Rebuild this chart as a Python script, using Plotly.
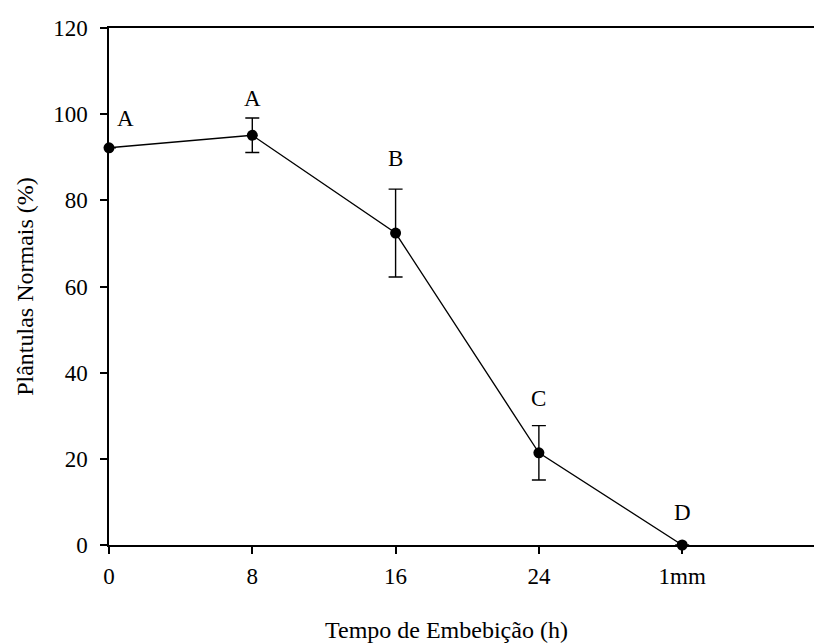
import plotly.graph_objects as go

tick_labels = ["0", "8", "16", "24", "1mm"]
x_pos = [0, 1, 2, 3, 4]
plantulas = [92.2, 95.1, 72.4, 21.4, 0.0]
erro = [0.0, 4.0, 10.2, 6.3, 0.0]
letras = ["A", "A", "B", "C", "D"]
letras_y = [99.0, 103.6, 89.7, 34.0, 7.6]
letras_xshift = [16, 0, 0, 0, 0]

FONT = "Liberation Serif"

fig = go.Figure()
fig.add_trace(go.Scatter(
    x=x_pos, y=plantulas,
    mode="lines+markers",
    line=dict(color="black", width=1.3),
    marker=dict(color="black", size=11),
    error_y=dict(type="data", array=erro, visible=True, color="black",
                 thickness=1.4, width=7),
    cliponaxis=False,
    showlegend=False,
))

for xi, t, yy, xs in zip(x_pos, letras, letras_y, letras_xshift):
    fig.add_annotation(x=xi, y=yy, text=t, showarrow=False, xshift=xs,
                       font=dict(family=FONT, size=23, color="black"))

# x-axis title (centred as in the original, slightly left of plot centre)
fig.add_annotation(xref="paper", yref="paper", x=0.479, y=-0.165,
                   xanchor="center", yanchor="middle", showarrow=False,
                   text="Tempo de Embebição (h)",
                   font=dict(family=FONT, size=24, color="black"))

fig.update_layout(
    width=814, height=643,
    margin=dict(l=109, r=0, t=28, b=98),
    paper_bgcolor="white", plot_bgcolor="white",
    font=dict(family=FONT, size=23, color="black"),
    xaxis=dict(
        range=[0, 4.92], tickvals=x_pos, ticktext=tick_labels,
        showline=True, linecolor="black", linewidth=1.5, mirror=True,
        ticks="outside", ticklen=7, tickwidth=1.5, tickcolor="black",
        ticklabelstandoff=3,
        showgrid=False, zeroline=False,
    ),
    yaxis=dict(
        range=[0, 120], tickvals=[0, 20, 40, 60, 80, 100, 120],
        showline=True, linecolor="black", linewidth=1.5,
        ticks="outside", ticklen=7, tickwidth=1.5, tickcolor="black",
        ticklabelstandoff=8,
        showgrid=False, zeroline=False,
        title=dict(text="Plântulas Normais (%)", standoff=13,
                   font=dict(family=FONT, size=24)),
    ),
)

fig.write_html("out.html")
